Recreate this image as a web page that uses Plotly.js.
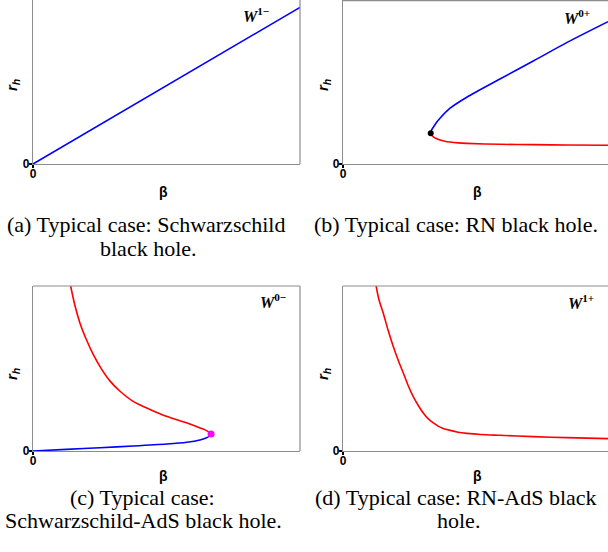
<!DOCTYPE html>
<html>
<head>
<meta charset="utf-8">
<script src="https://cdn.plot.ly/plotly-3.0.1.min.js"></script>
<style>html,body{margin:0;padding:0;background:#fff;}#chart{width:608px;height:552px;}</style>
</head>
<body>
<div id="chart"></div>
<script>
// (a) Schwarzschild: W^{1-}
const betaA = [0, 1];
const rA = [0, 0.955];

// (b) RN: W^{0+}
const betaB_blue = [0.331, 0.3325, 0.336, 0.341, 0.352, 0.366, 0.404, 0.467, 0.592, 0.718, 0.844, 1.0];
const rB_blue    = [0.187, 0.200, 0.212, 0.225, 0.252, 0.279, 0.340, 0.407, 0.518, 0.628, 0.740, 0.868];
const betaB_red  = [0.331, 0.334, 0.341, 0.352, 0.366, 0.384, 0.404, 0.435, 0.467, 0.592, 0.718, 0.844, 1.0];
const rB_red     = [0.187, 0.176, 0.166, 0.155, 0.146, 0.139, 0.134, 0.129, 0.126, 0.120, 0.118, 0.116, 0.114];
const betaB_dot = [0.331];
const rB_dot = [0.187];

// (c) Schwarzschild-AdS: W^{0-}
const betaC_red = [0.141, 0.157, 0.176, 0.199, 0.225, 0.255, 0.288, 0.326, 0.375, 0.438, 0.502, 0.577, 0.626, 0.652, 0.667];
const rC_red    = [1.0, 0.882, 0.775, 0.679, 0.587, 0.501, 0.425, 0.362, 0.301, 0.252, 0.209, 0.170, 0.140, 0.122, 0.103];
const betaC_blue = [0, 0.126, 0.251, 0.376, 0.501, 0.576, 0.625, 0.648, 0.661, 0.667];
const rC_blue    = [0, 0.010, 0.020, 0.030, 0.042, 0.053, 0.067, 0.079, 0.091, 0.103];
const betaC_dot = [0.667];
const rC_dot = [0.103];

// (d) RN-AdS: W^{1+}
const betaD = [0.125, 0.136, 0.152, 0.170, 0.190, 0.208, 0.228, 0.245, 0.265, 0.283, 0.303, 0.321, 0.341, 0.359, 0.378, 0.404, 0.434, 0.467, 0.520, 0.592, 0.718, 0.844, 1.0];
const rD    = [1.0, 0.915, 0.835, 0.733, 0.632, 0.552, 0.471, 0.400, 0.329, 0.279, 0.230, 0.196, 0.170, 0.151, 0.137, 0.125, 0.114, 0.107, 0.100, 0.095, 0.087, 0.081, 0.075];

const panelLabels = ['<i>W</i><sup>1\u2212</sup>', '<i>W</i><sup>0+</sup>', '<i>W</i><sup>0\u2212</sup>', '<i>W</i><sup>1+</sup>'];
const captions = [
  ['(a) Typical case: Schwarzschild', 'black hole.'],
  ['(b) Typical case: RN black hole.'],
  ['(c) Typical case:', 'Schwarzschild-AdS black hole.'],
  ['(d) Typical case: RN-AdS black', 'hole.']
];
const xTitle = '<b>\u03b2</b>';
const yTitle = '<b><i>r<sub>h</sub></i></b>';
const tickVals = [0];
const tickText = ['<b>0</b>'];

const W = 608, H = 552;
const px = v => v / W;
const py = v => 1 - v / H;

const BLUE = '#0000ff', RED = '#ff0000';
const lw = 1.6;
function line(x, y, color, xa, ya) {
  return {x: x, y: y, xaxis: xa, yaxis: ya, mode: 'lines', type: 'scatter',
          line: {color: color, width: lw, shape: 'spline', smoothing: 0.8}, hoverinfo: 'skip'};
}
function dot(x, y, color, size, xa, ya) {
  return {x: x, y: y, xaxis: xa, yaxis: ya, mode: 'markers', type: 'scatter',
          marker: {color: color, size: size}, hoverinfo: 'skip'};
}

const data = [
  line(betaA, rA, BLUE, 'x', 'y'),
  line(betaB_blue, rB_blue, BLUE, 'x2', 'y2'),
  line(betaB_red, rB_red, RED, 'x2', 'y2'),
  dot(betaB_dot, rB_dot, '#000000', 6, 'x2', 'y2'),
  line(betaC_red, rC_red, RED, 'x3', 'y3'),
  line(betaC_blue, rC_blue, BLUE, 'x3', 'y3'),
  dot(betaC_dot, rC_dot, '#ff00ff', 7, 'x3', 'y3'),
  line(betaD, rD, RED, 'x4', 'y4')
];

const FRAME = '#8c8c8c';
function ax(domain, anchor, standoff) {
  return {domain: domain, anchor: anchor, range: [0, 1], showgrid: false, zeroline: false,
          showline: true, linecolor: FRAME, linewidth: 1.2,
          tickmode: 'array', tickvals: tickVals, ticktext: tickText,
          ticks: 'outside', ticklen: 3, tickwidth: 1.5, tickcolor: '#000',
          ticklabelstandoff: standoff,
          tickfont: {family: 'Liberation Sans, Arial, sans-serif', size: 12, color: '#000'},
          fixedrange: true};
}

const topDom = [py(164), 1];
const botDom = [py(451), py(286)];
const leftDom = [px(33), px(300)];
const rightDom = [px(343), 1];

const layout = {
  width: W, height: H,
  margin: {l: 0, r: 0, t: 0, b: 0},
  paper_bgcolor: '#fff', plot_bgcolor: '#fff',
  showlegend: false,
  xaxis: ax(leftDom, 'y', -5), yaxis: ax(topDom, 'x', -3),
  xaxis2: ax(rightDom, 'y2', -5), yaxis2: ax(topDom, 'x2', -3),
  xaxis3: ax(leftDom, 'y3', -5), yaxis3: ax(botDom, 'x3', -3),
  xaxis4: ax(rightDom, 'y4', -5), yaxis4: ax(botDom, 'x4', -3),
  shapes: [
    {type: 'line', xref: 'paper', yref: 'paper', x0: px(300), x1: px(300), y0: py(164), y1: 1, line: {color: FRAME, width: 1.2}},
    {type: 'line', xref: 'paper', yref: 'paper', x0: px(343), x1: 1, y0: py(0.6), y1: py(0.6), line: {color: FRAME, width: 1.2}},
    {type: 'line', xref: 'paper', yref: 'paper', x0: px(33), x1: px(300), y0: py(286), y1: py(286), line: {color: FRAME, width: 1.2}},
    {type: 'line', xref: 'paper', yref: 'paper', x0: px(300), x1: px(300), y0: py(451), y1: py(286), line: {color: FRAME, width: 1.2}},
    {type: 'line', xref: 'paper', yref: 'paper', x0: px(343), x1: 1, y0: py(286), y1: py(286), line: {color: FRAME, width: 1.2}}
  ],
  annotations: []
};

const serif = 'Liberation Serif, Times New Roman, serif';
const sans = 'Liberation Sans, Arial, sans-serif';
function ann(text, x, y, opts) {
  return Object.assign({text: text, xref: 'paper', yref: 'paper', x: px(x), y: py(y),
    xanchor: 'center', yanchor: 'middle', showarrow: false,
    font: {family: serif, size: 22, color: '#000'}}, opts || {});
}

// panel labels
const labelPos = [[256, 15], [577, 17], [273, 301], [581, 302]];
panelLabels.forEach((t, i) => layout.annotations.push(
  ann('<b>' + t + '</b>', labelPos[i][0], labelPos[i][1], {font: {family: serif, size: 16, color: '#000'}})));

// axis titles
const yTitlePos = [[12, 85], [323, 85], [12, 374], [323, 374]];
const xTitlePos = [[163, 192], [477, 192], [163, 476], [477, 476]];
yTitlePos.forEach(p => layout.annotations.push(ann(yTitle, p[0], p[1], {textangle: -90, font: {family: sans, size: 15, color: '#000'}})));
xTitlePos.forEach(p => layout.annotations.push(ann(xTitle, p[0], p[1], {font: {family: sans, size: 14, color: '#000'}})));

// captions
const capPos = [
  [[146, 225], [148, 248]],
  [[456, 225]],
  [[142, 497], [143, 520]],
  [[456, 497], [458, 520]]
];
captions.forEach((lines, i) => lines.forEach((t, j) =>
  layout.annotations.push(ann(t, capPos[i][j][0], capPos[i][j][1]))));

Plotly.newPlot('chart', data, layout, {staticPlot: true, displayModeBar: false});
</script>
</body>
</html>
